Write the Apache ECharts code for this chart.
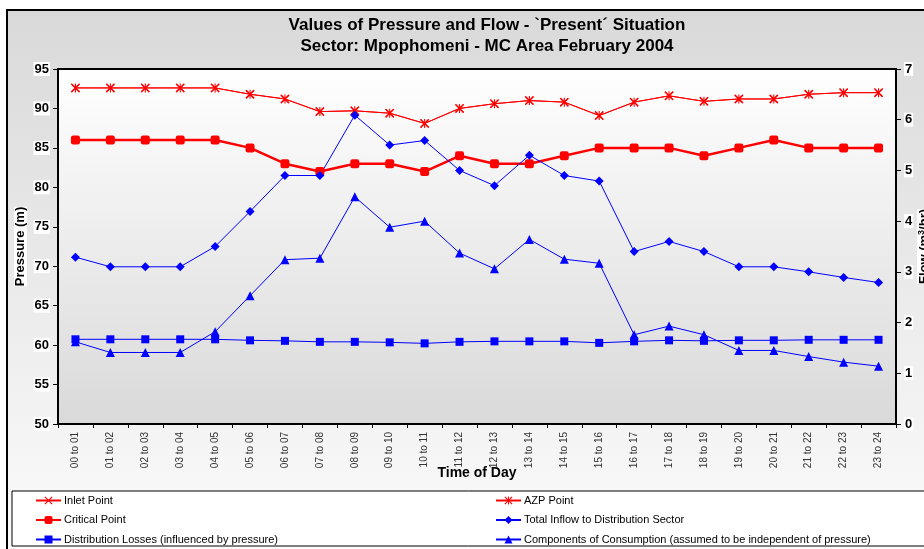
<!DOCTYPE html>
<html>
<head>
<meta charset="utf-8">
<script src="https://cdn.jsdelivr.net/npm/echarts@6/dist/echarts.min.js"></script>
<style>
  html, body { margin: 0; padding: 0; background: #fff; }
  #chart { width: 924px; height: 549px; }
</style>
</head>
<body>
<div id="chart"></div>
<script>
// categories (hours)
var hours = ['00 to 01', '01 to 02', '02 to 03', '03 to 04', '04 to 05', '05 to 06',
    '06 to 07', '07 to 08', '08 to 09', '09 to 10', '10 to 11', '11 to 12',
    '12 to 13', '13 to 14', '14 to 15', '15 to 16', '16 to 17', '17 to 18',
    '18 to 19', '19 to 20', '20 to 21', '21 to 22', '22 to 23', '23 to 24'];

// pressure (m) - left axis
var inletPoint = [92.6, 92.6, 92.6, 92.6, 92.6, 91.8, 91.2, 89.6, 89.7, 89.4, 88.1, 90.0,
    90.6, 91.0, 90.8, 89.1, 90.8, 91.6, 90.9, 91.2, 91.2, 91.8, 92.0, 92.0];
var azpPoint = [92.6, 92.6, 92.6, 92.6, 92.6, 91.8, 91.2, 89.6, 89.7, 89.4, 88.1, 90.0,
    90.6, 91.0, 90.8, 89.1, 90.8, 91.6, 90.9, 91.2, 91.2, 91.8, 92.0, 92.0];
var criticalPoint = [86, 86, 86, 86, 86, 85, 83, 82, 83, 83, 82, 84,
    83, 83, 84, 85, 85, 85, 84, 85, 86, 85, 85, 85];

// flow (m3/hr) - right axis
var totalInflow = [3.29, 3.10, 3.10, 3.10, 3.50, 4.19, 4.90, 4.90, 6.09, 5.50, 5.59, 5.00,
    4.70, 5.30, 4.90, 4.79, 3.40, 3.60, 3.40, 3.10, 3.10, 3.00, 2.89, 2.79];
var distLosses = [1.67, 1.67, 1.67, 1.67, 1.67, 1.65, 1.64, 1.62, 1.62, 1.61, 1.59, 1.62,
    1.63, 1.63, 1.63, 1.60, 1.63, 1.65, 1.64, 1.65, 1.65, 1.66, 1.66, 1.66];
var consumption = [1.62, 1.41, 1.41, 1.41, 1.82, 2.53, 3.24, 3.27, 4.48, 3.88, 4.00, 3.37,
    3.06, 3.64, 3.25, 3.17, 1.76, 1.93, 1.76, 1.45, 1.45, 1.33, 1.22, 1.14];

var FONT = '"Liberation Sans", Arial, sans-serif';

// marker shapes
var xMark = 'path://M1,0 L5,4 L9,0 L10,1 L6,5 L10,9 L9,10 L5,6 L1,10 L0,9 L4,5 L0,1 Z';
var starMark = 'path://M1,0 L5,4 L9,0 L10,1 L6,5 L10,9 L9,10 L5,6 L1,10 L0,9 L4,5 L0,1 Z M4.4,0 L5.6,0 L5.6,10 L4.4,10 Z';

var legendText = { fontFamily: FONT, fontSize: 11, color: '#000', padding: [0, 0, 0, -2] };

var chart = echarts.init(document.getElementById('chart'));

var option = {
    animation: false,
    backgroundColor: '#fff',
    textStyle: { fontFamily: FONT },
    graphic: [
        {
            type: 'rect', z: -100, silent: true,
            shape: { x: 7, y: 10, width: 940, height: 600 },
            style: {
                fill: new echarts.graphic.LinearGradient(0, 0, 0, 1, [
                    { offset: 0, color: '#d9d9d9' },
                    { offset: 1, color: '#ffffff' }
                ]),
                stroke: '#000', lineWidth: 2
            }
        },
        {
            type: 'rect', z: -90, silent: true,
            shape: { x: 12, y: 491, width: 930, height: 55 },
            style: { fill: '#fff', stroke: '#000', lineWidth: 1 }
        }
    ],
    title: {
        text: 'Values of Pressure and Flow - `Present\u00b4 Situation\nSector: Mpophomeni - MC Area February 2004',
        left: 482,
        top: 10,
        textAlign: 'center',
        textStyle: {
            fontFamily: FONT,
            fontSize: 17,
            fontWeight: 'bold',
            color: '#000',
            lineHeight: 21,
            backgroundColor: '#fff',
            padding: [1, 2, 1, 2]
        }
    },
    legend: [
        {
            orient: 'vertical',
            left: 35,
            top: 495,
            padding: 0,
            itemWidth: 25,
            itemHeight: 10,
            itemGap: 8.5,
            textStyle: legendText,
            data: ['Inlet Point', 'Critical Point', 'Distribution Losses (influenced by pressure)']
        },
        {
            orient: 'vertical',
            left: 495,
            top: 495,
            padding: 0,
            itemWidth: 25,
            itemHeight: 10,
            itemGap: 8.5,
            textStyle: legendText,
            data: ['AZP Point', 'Total Inflow to Distribution Sector', 'Components of Consumption (assumed to be independent of pressure)']
        }
    ],
    grid: {
        left: 58,
        right: 28,
        top: 69,
        bottom: 125,
        outerBoundsMode: 'none',
        show: true,
        borderColor: '#000',
        borderWidth: 2,
        backgroundColor: new echarts.graphic.LinearGradient(0, 0, 0, 1, [
            { offset: 0, color: '#ffffff' },
            { offset: 1, color: '#d9d9d9' }
        ])
    },
    xAxis: {
        type: 'category',
        boundaryGap: true,
        data: hours,
        name: 'Time of Day',
        nameLocation: 'middle',
        nameGap: 42,
        nameMoveOverlap: false,
        nameTextStyle: { fontFamily: FONT, fontSize: 14, fontWeight: 'bold', color: '#000' },
        axisLine: { lineStyle: { color: '#000', width: 2 } },
        axisTick: { show: true, length: 4, lineStyle: { color: '#000' } },
        axisLabel: {
            interval: 0,
            rotate: 90,
            margin: 8,
            fontFamily: FONT,
            fontSize: 10,
            color: '#333'
        },
        splitLine: { show: false }
    },
    yAxis: [
        {
            type: 'value',
            min: 50,
            max: 95,
            interval: 5,
            name: 'Pressure (m)',
            nameLocation: 'middle',
            nameRotate: 90,
            nameGap: 31,
            nameMoveOverlap: false,
            nameTextStyle: { fontFamily: FONT, fontSize: 13, fontWeight: 'bold', color: '#000', backgroundColor: '#fff' },
            axisLine: { show: true, lineStyle: { color: '#000', width: 2 } },
            axisTick: { show: true, length: 5, lineStyle: { color: '#000' } },
            axisLabel: {
                margin: 8,
                fontFamily: FONT,
                fontSize: 13,
                fontWeight: 'bold',
                color: '#000',
                backgroundColor: '#fff',
                padding: [1, 1, 0, 1]
            },
            splitLine: { show: false }
        },
        {
            type: 'value',
            min: 0,
            max: 7,
            interval: 1,
            name: '{a|Flow (m}{s|3}{a|/hr)}',
            nameLocation: 'middle',
            nameRotate: 90,
            nameGap: 21,
            nameMoveOverlap: false,
            nameTextStyle: {
                backgroundColor: '#fff',
                rich: {
                    a: { fontFamily: FONT, fontSize: 13, fontWeight: 'bold', color: '#000' },
                    s: { fontFamily: FONT, fontSize: 9, fontWeight: 'bold', color: '#000', verticalAlign: 'top', padding: [0, 0, 6, 0] }
                }
            },
            axisLine: { show: true, lineStyle: { color: '#000', width: 2 } },
            axisTick: { show: true, length: 5, lineStyle: { color: '#000' } },
            axisLabel: {
                margin: 8,
                fontFamily: FONT,
                fontSize: 13,
                fontWeight: 'bold',
                color: '#000',
                backgroundColor: '#fff',
                padding: [1, 1, 0, 1]
            },
            splitLine: { show: false }
        }
    ],
    series: [
        {
            name: 'Inlet Point',
            type: 'line',
            data: inletPoint,
            symbol: xMark,
            symbolSize: 9,
            lineStyle: { color: '#ff0000', width: 1 },
            itemStyle: { color: '#ff0000' }
        },
        {
            name: 'AZP Point',
            type: 'line',
            data: azpPoint,
            symbol: starMark,
            symbolSize: 9,
            lineStyle: { color: '#ff0000', width: 1 },
            itemStyle: { color: '#ff0000' }
        },
        {
            name: 'Critical Point',
            type: 'line',
            data: criticalPoint,
            symbol: 'roundRect',
            symbolSize: 9,
            lineStyle: { color: '#ff0000', width: 2.5 },
            itemStyle: { color: '#ff0000' }
        },
        {
            name: 'Total Inflow to Distribution Sector',
            type: 'line',
            yAxisIndex: 1,
            data: totalInflow,
            symbol: 'diamond',
            symbolSize: 9,
            lineStyle: { color: '#0000ff', width: 1 },
            itemStyle: { color: '#0000ff' }
        },
        {
            name: 'Distribution Losses (influenced by pressure)',
            type: 'line',
            yAxisIndex: 1,
            data: distLosses,
            symbol: 'rect',
            symbolSize: 8,
            lineStyle: { color: '#0000ff', width: 1 },
            itemStyle: { color: '#0000ff' }
        },
        {
            name: 'Components of Consumption (assumed to be independent of pressure)',
            type: 'line',
            yAxisIndex: 1,
            data: consumption,
            symbol: 'triangle',
            symbolSize: 9,
            lineStyle: { color: '#0000ff', width: 1 },
            itemStyle: { color: '#0000ff' }
        }
    ]
};

chart.setOption(option);
</script>
</body>
</html>
